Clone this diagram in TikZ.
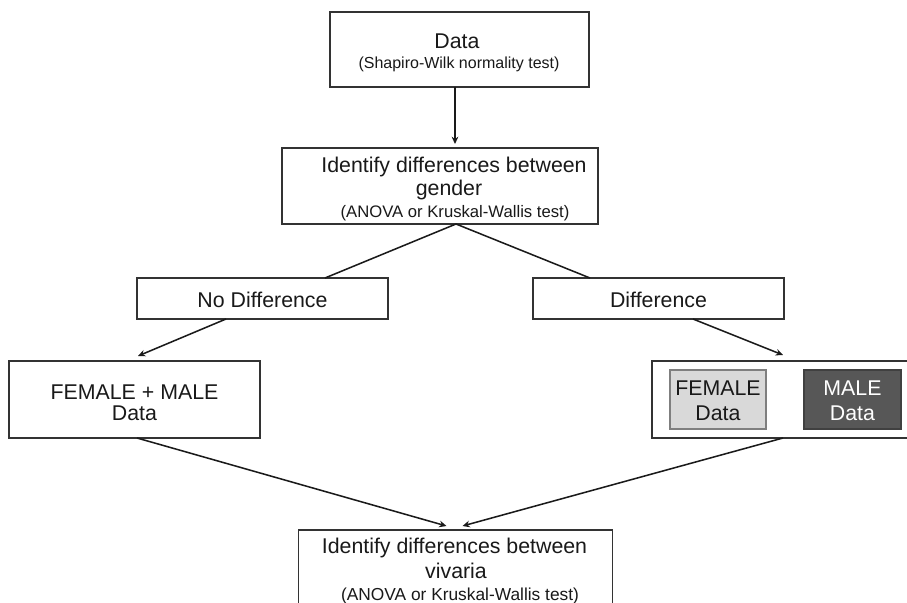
\documentclass[tikz,border=0pt]{standalone}
\usepackage{fontspec}
\setmainfont{Liberation Sans}
\usetikzlibrary{arrows.meta,calc}
\definecolor{boxc}{HTML}{333333}
\definecolor{linec}{HTML}{1A1A1A}
\definecolor{femfill}{HTML}{D9D9D9}
\definecolor{femdraw}{HTML}{7F7F7F}
\definecolor{malefill}{HTML}{575757}
\definecolor{maledraw}{HTML}{404040}
\begin{document}
\begin{tikzpicture}[x=0.75pt,y=-0.75pt,
  wh/.style 2 args={minimum width=#1*0.75pt, minimum height=#2*0.75pt},
  box/.style={draw=boxc, line width=1pt, fill=white, inner sep=0pt, outer sep=0pt},
  big/.style={anchor=base, inner sep=0pt, font=\fontsize{16}{19}\selectfont, text=black!90},
  small/.style={anchor=base, inner sep=0pt, font=\fontsize{12}{14}\selectfont, text=black!90},
  conn/.style={draw=linec, line width=1.15pt},
  arr/.style={conn, -{Stealth[length=5.5pt,width=5pt]}}]
\useasboundingbox (0,0) rectangle (907,603);
\clip (0,0) rectangle (907,603);

% boxes
\node[box, wh={259}{75}] (data) at (459.5,49.5) {};
\node[box, wh={316}{76}] (gender) at (440,186) {};
\node[box, wh={251}{41}] (nodiff) at (262.5,298.5) {};
\node[box, wh={251}{41}] (diff) at (658.5,298.5) {};
\node[box, wh={251}{77}] (fm) at (134.5,399.5) {};
\node[box, wh={263}{77}] (split) at (783.5,399.5) {};
\node[box, draw=femdraw, fill=femfill, wh={96}{59}] (fem) at (718,399.5) {};
\node[box, draw=maledraw, fill=malefill, wh={97}{59}] (male) at (852.5,399.5) {};
\node[box, wh={314}{85}] (viv) at (455.5,572.5) {};

% texts
\node[big] (dataA) at (457,48) {Data};
\node[small] (dataB) at (459,68) {(Shapiro-Wilk normality test)};
\node[big] (genA) at (454,172) {Identify differences between};
\node[big] (genB) at (449,195) {gender};
\node[small, font=\fontsize{12.5}{14}\selectfont] (genC) at (455,217) {(ANOVA or Kruskal-Wallis test)};
\node[big] (ndT) at (262.5,307) {No Difference};
\node[big] (dT) at (658.5,307) {Difference};
\node[big] (fmA) at (134.5,399) {FEMALE + MALE};
\node[big] (fmB) at (134.5,420) {Data};
\node[big] (femA) at (718,395) {FEMALE};
\node[big] (femB) at (718,420) {Data};
\node[big, text=white] (maleA) at (852.5,395) {MALE};
\node[big, text=white] (maleB) at (852.5,420) {Data};
\node[big] (vivA) at (454.5,553) {Identify differences between};
\node[big] (vivB) at (456,578) {vivaria};
\node[small, font=\fontsize{13}{15}\selectfont] (vivC) at (460,600) {(ANOVA or Kruskal-Wallis test)};

% connectors
\draw[arr] ($(data.south)+(-4.5,0)$) -- ($(gender.north)+(15,-4)$);
\draw[conn] ($(gender.south)+(16,0)$) -- ($(nodiff.north)+(62.5,0)$);
\draw[conn] ($(gender.south)+(16,0)$) -- ($(diff.north)+(-68.5,0)$);
\draw[arr] ($(nodiff.south)+(-36.5,0)$) -- ($(fm.north)+(3.5,-5)$);
\draw[arr] ($(diff.south)+(34.5,0)$) -- ($(split.north)+(-0.5,-6)$);
\draw[arr] ($(fm.south)+(2.5,0)$) -- ($(viv.north)+(-9,-4)$);
\draw[arr] ($(split.south)+(-0.5,0)$) -- ($(viv.north)+(7,-4)$);
\end{tikzpicture}
\end{document}
